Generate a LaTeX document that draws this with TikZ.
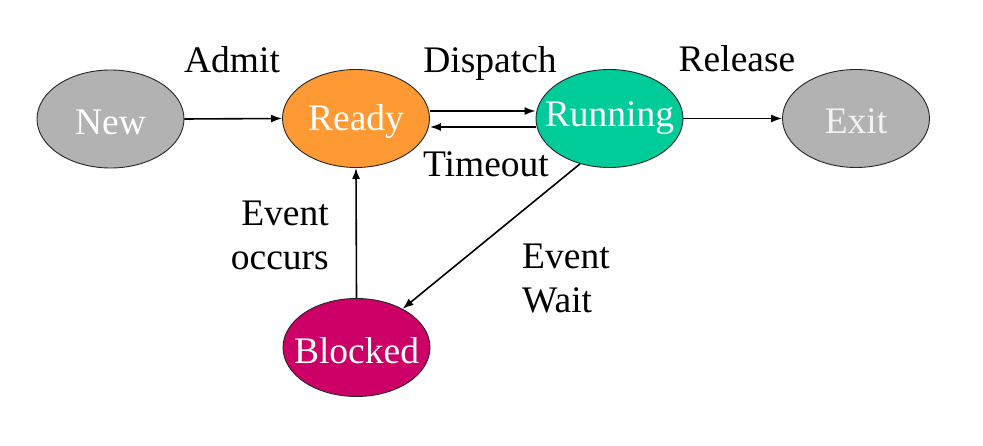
\documentclass[tikz,border=0pt]{standalone}
\usepackage{fontspec}
\setmainfont{Liberation Serif}
\usetikzlibrary{arrows.meta,shapes.geometric}
\definecolor{cgray}{RGB}{178,178,178}
\definecolor{corange}{RGB}{255,153,51}
\definecolor{cgreen}{RGB}{0,204,153}
\definecolor{cmagenta}{RGB}{204,0,102}
\begin{document}
\begin{tikzpicture}[x=1pt,y=-1pt,
  state/.style={ellipse,draw=black!85,line width=0.9pt,minimum width=147pt,minimum height=98pt,inner sep=0pt},
  stext/.style={text=white,font=\rmfamily\fontsize{37.5}{44}\selectfont,yshift=-3pt},
  lbl/.style={font=\rmfamily\fontsize{37.5}{44}\selectfont,text=black,inner sep=0pt},
  arr/.style={-{Latex[length=11pt,width=8pt]},line width=1.6pt}]
\useasboundingbox[fill=white] (0,0) rectangle (983,446);
\node[state,fill=cgray,label={[stext]center:New}] (new) at (110.5,119) {};
\node[state,fill=corange,label={[stext]center:Ready}] (ready) at (356,118.5) {};
\node[state,fill=cgreen,label={[stext,yshift=3pt]center:Running}] (running) at (609.5,118.5) {};
\node[state,fill=cgray,label={[stext,text=white!95!black]center:Exit}] (exit) at (856,118.5) {};
\node[state,fill=cmagenta,label={[stext]center:Blocked}] (blocked) at (356.5,347.5) {};
\draw[arr] (new.east) -- (ready.west);
\draw[arr] ([yshift=7.5pt]ready.east) -- ([yshift=7.5pt]running.west);
\draw[arr] ([yshift=-8.5pt]running.west) -- ([yshift=-8.5pt]ready.east);
\draw[arr] (running.east) -- (exit.west);
\draw[arr] (blocked.north) -- (ready.south);
\draw[arr] (running.237) -- (blocked.40);
\node[lbl,anchor=base] (admit) at (232,73) {Admit};
\node[lbl,anchor=base] (dispatch) at (490,73) {Dispatch};
\node[lbl,anchor=base] (release) at (737,72) {Release};
\node[lbl,anchor=base] (timeout) at (486,177) {Timeout};
\node[lbl,anchor=base east,align=right] (occurs) at (329,270) {Event\\occurs};
\node[lbl,anchor=base west,align=left] (wait) at (522,313) {Event\\Wait};
\end{tikzpicture}
\end{document}
